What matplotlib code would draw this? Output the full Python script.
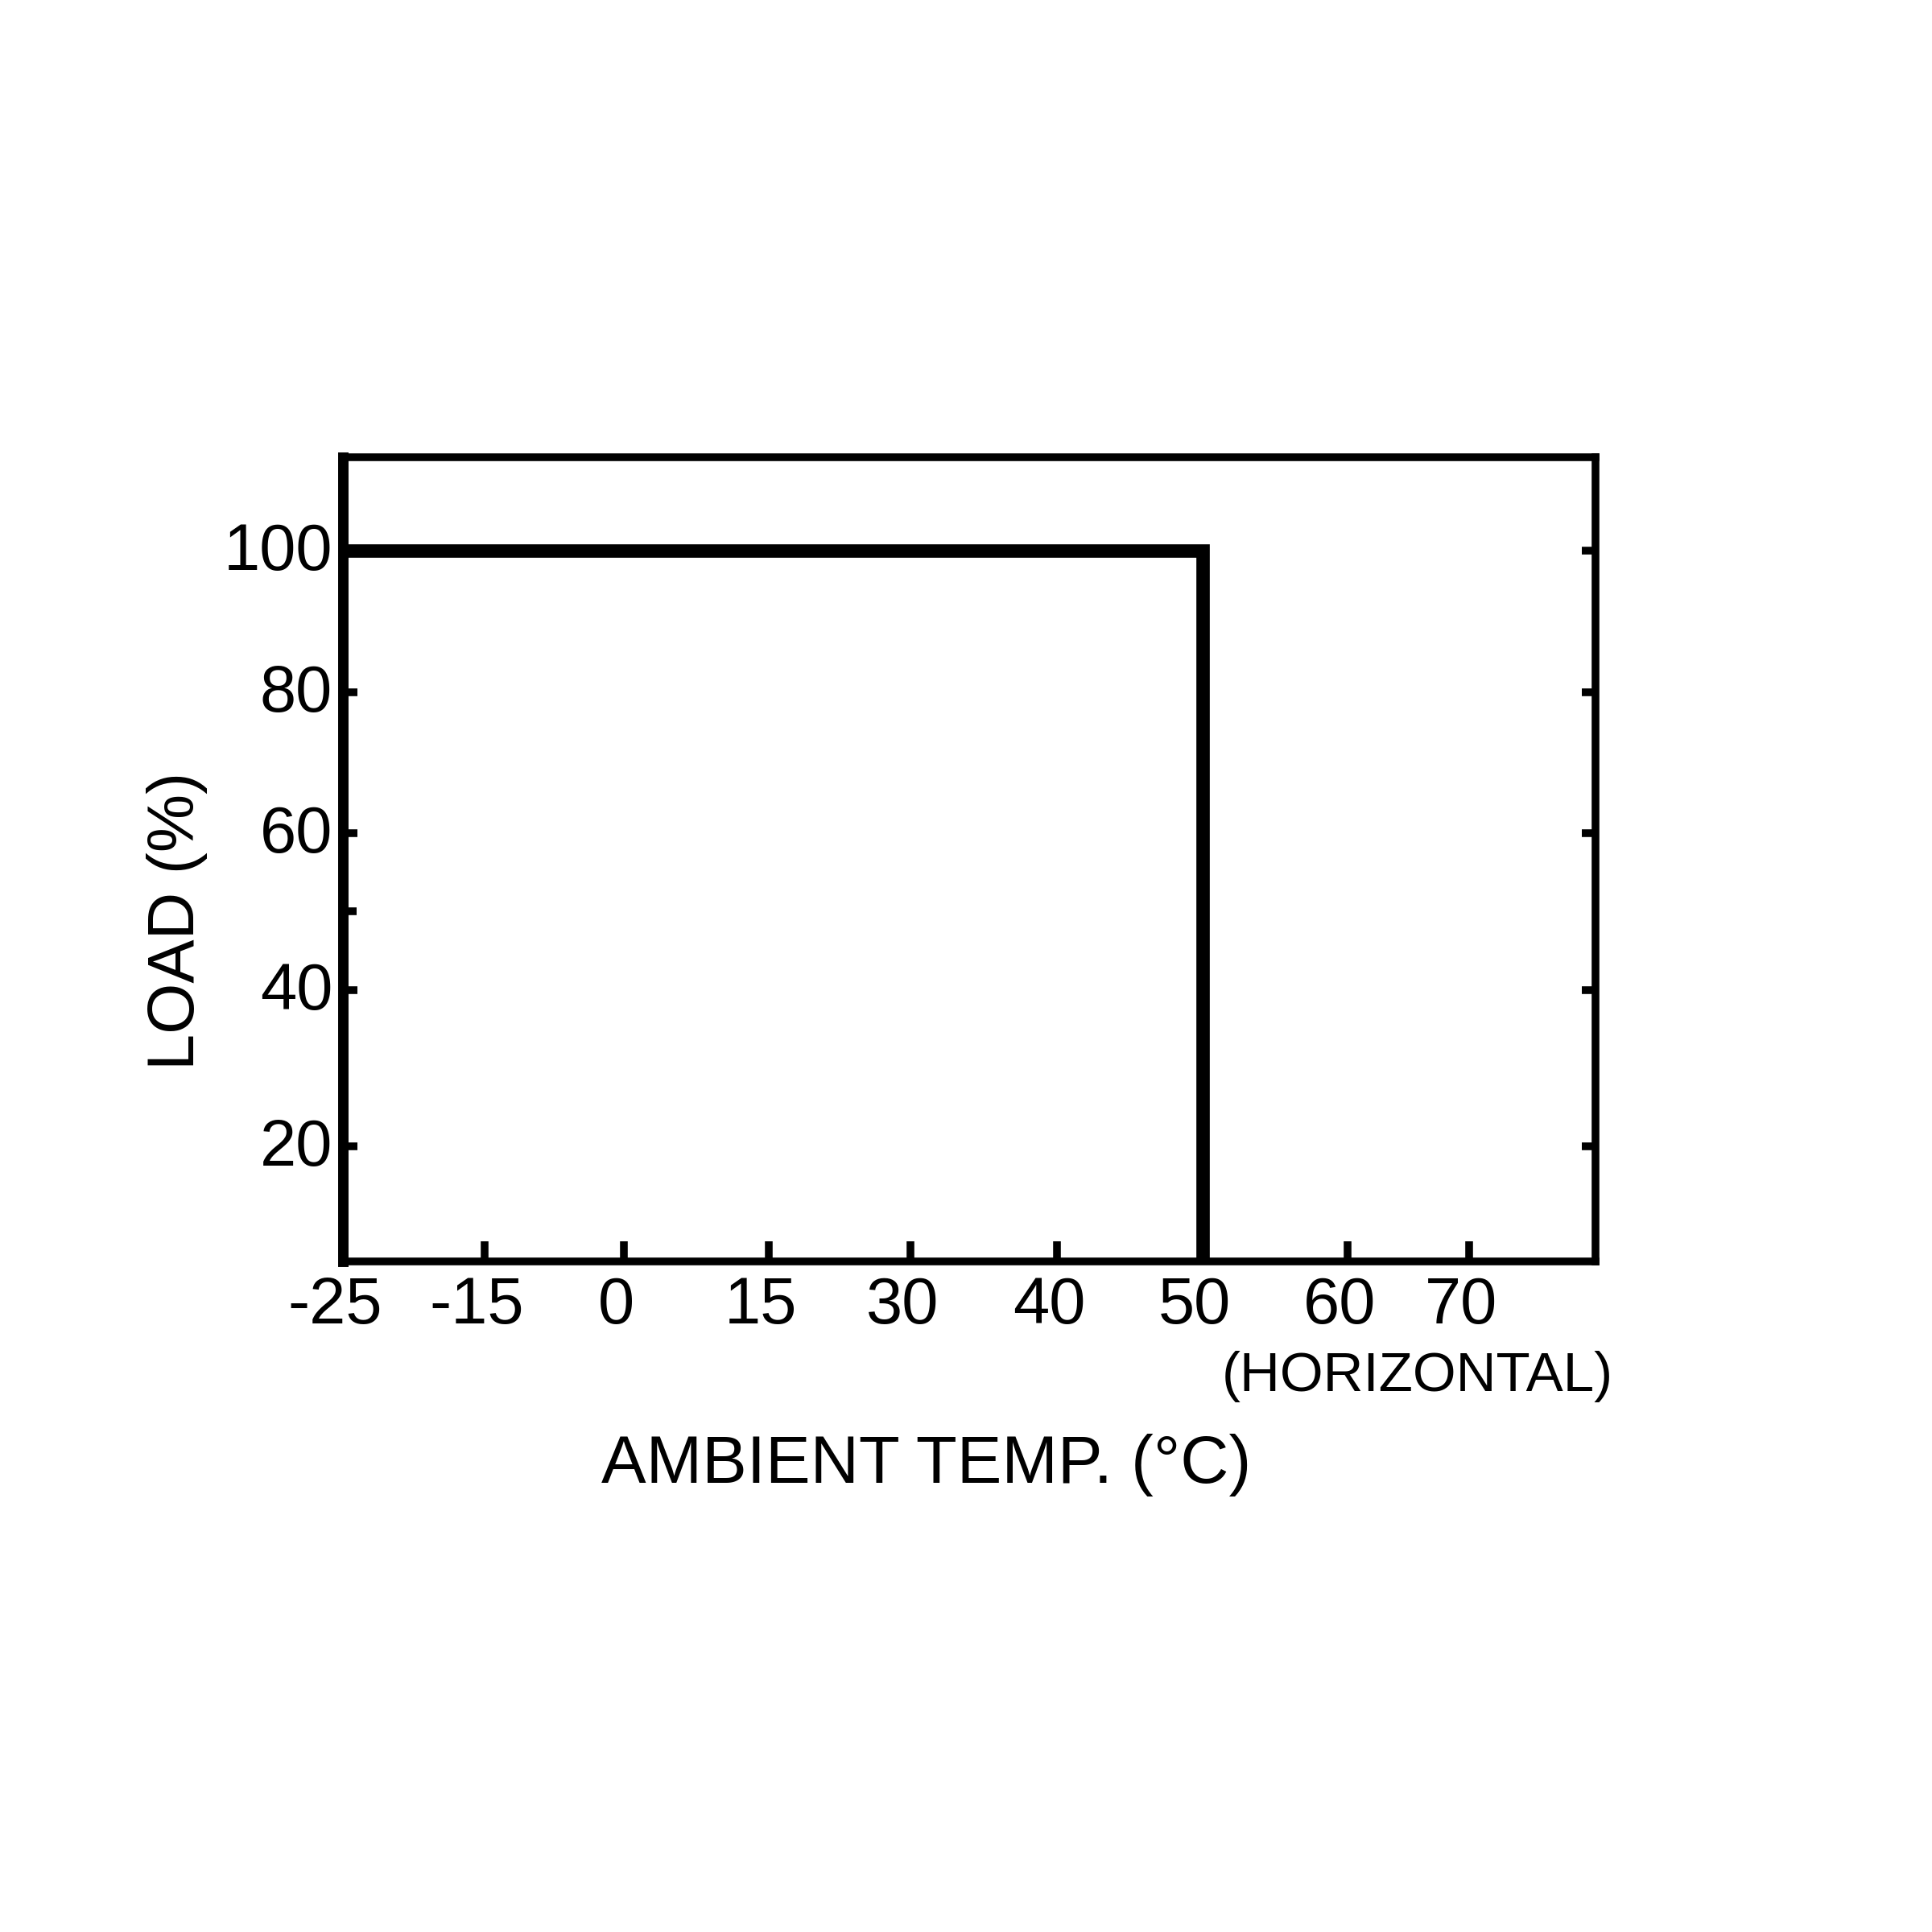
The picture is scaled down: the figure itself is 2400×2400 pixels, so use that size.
import numpy as np
import matplotlib
matplotlib.use("Agg")
import matplotlib.pyplot as plt
import matplotlib.transforms as mtransforms
from matplotlib.ticker import FixedLocator, NullFormatter

plt.rcParams['font.family'] = ['Liberation Sans', 'DejaVu Sans']
plt.rcParams['axes.unicode_minus'] = False

# derating curve: full load up to 50 C, then nothing
temp = [-25, 50, 50]
load = [100, 100, 0]

x_ticks = [-25, -15, 0, 15, 30, 40, 50, 60, 70]
x_labels = ['-25', '-15', '0', '15', '30', '40', '50', '60', '70']
y_ticks = [20, 40, 60, 80, 100]
y_labels = ['20', '40', '60', '80', '100']
y_minor = [50]

# the printed axes are not linear, so map values through the printed spacing
x_knot_val = [-25, -15, 0, 15, 30, 40, 50, 60, 70, 80]
x_knot_pos = [0, 176, 349, 529, 705, 887, 1068, 1248, 1399, 1556]
y_knot_val = [5.3, 20, 40, 60, 80, 100, 113.2]
y_knot_pos = [0, 143, 337, 532, 707, 883, 999]


def piecewise(vals, pos):
    v = np.array(vals, float)
    p = np.array(pos, float)
    # extend ends linearly so values outside the axis still map sensibly
    v_ext = np.r_[v[0] - 1000, v, v[-1] + 1000]
    lo = (p[1] - p[0]) / (v[1] - v[0])
    hi = (p[-1] - p[-2]) / (v[-1] - v[-2])
    p_ext = np.r_[p[0] - 1000 * lo, p, p[-1] + 1000 * hi]

    def fwd(x):
        return np.interp(x, v_ext, p_ext)

    def inv(y):
        return np.interp(y, p_ext, v_ext)
    return fwd, inv


fig = plt.figure(figsize=(8, 8), dpi=300)
ax = fig.add_axes([0.1775, 0.3471, 0.6483, 0.4163])

ax.set_xscale('function', functions=piecewise(x_knot_val, x_knot_pos))
ax.set_yscale('function', functions=piecewise(y_knot_val, y_knot_pos))

ax.plot(temp, load, color='black', lw=4.0, solid_joinstyle='miter',
        solid_capstyle='butt')

ax.set_xlim(-25, 80)
ax.set_ylim(5.3, 113.2)

ax.xaxis.set_major_locator(FixedLocator(x_ticks))
ax.set_xticklabels(x_labels)
ax.yaxis.set_major_locator(FixedLocator(y_ticks))
ax.set_yticklabels(y_labels)
ax.yaxis.set_minor_locator(FixedLocator(y_minor))
ax.yaxis.set_minor_formatter(NullFormatter())
ax.xaxis.set_minor_locator(FixedLocator([]))

for side in ['top', 'right', 'bottom']:
    ax.spines[side].set_linewidth(2.3)
ax.spines['left'].set_linewidth(3.1)

ax.tick_params(axis='x', which='major', direction='in', length=6.0, width=2.3,
               labelsize=19.5, pad=4.3, top=False)
ax.tick_params(axis='y', which='major', direction='in', length=4.2, width=2.3,
               labelsize=19.5, pad=3.1, right=True)
ax.tick_params(axis='y', which='minor', direction='in', length=4.0, width=2.3,
               left=True, right=False)

# nudge tick labels a little, as printed in the original
shift_x = mtransforms.ScaledTranslation(-10 / 300, 0, fig.dpi_scale_trans)
for lab in ax.get_xticklabels():
    lab.set_transform(lab.get_transform() + shift_x)
shift_y = mtransforms.ScaledTranslation(0, 5 / 300, fig.dpi_scale_trans)
for lab in ax.get_yticklabels():
    lab.set_transform(lab.get_transform() + shift_y)

fig.text(0.4796, 0.2325, 'AMBIENT TEMP. (\u00b0C)', fontsize=20,
         ha='center', va='baseline')
fig.text(0.7335, 0.28, '(HORIZONTAL)', fontsize=16.6, ha='center', va='baseline')
fig.text(0.0917, 0.5233, 'LOAD (%)', fontsize=19.5, rotation=90,
         ha='center', va='center')

fig.savefig('out.png', dpi=300, facecolor='white')
